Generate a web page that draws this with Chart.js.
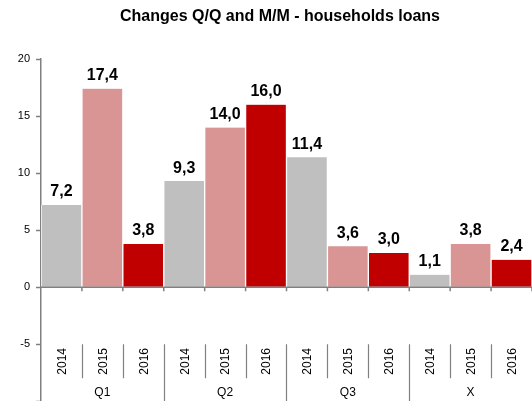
<!DOCTYPE html>
<html>
<head>
<meta charset="utf-8">
<script src="https://cdn.jsdelivr.net/npm/chart.js@4.4.1/dist/chart.umd.min.js"></script>
<style>
  html, body { margin: 0; padding: 0; background: #fff; overflow: hidden; }
  canvas { display: block; }
</style>
</head>
<body>
<canvas id="loans" width="532" height="414"></canvas>
<script>
// data
const title = 'Changes Q/Q and M/M - households loans';
const groups = ['Q1', 'Q2', 'Q3', 'X'];
const years = ['2014', '2015', '2016'];
const values = [7.2, 17.4, 3.8, 9.3, 14.0, 16.0, 11.4, 3.6, 3.0, 1.1, 3.8, 2.4];
const yearColors = ['#BFBFBF', '#D99594', '#C00000'];

const labels = [];
groups.forEach(g => years.forEach(yr => labels.push(yr + ' ' + g)));
const barColors = values.map((v, i) => yearColors[i % 3]);

const axisGrey = '#808080';
const fontFam = '"Liberation Sans", Arial, sans-serif';

// title, value labels, zero line and the two-level category axis drawn low in the plot
const lowerAxis = {
    id: 'lowerAxis',
    afterDatasetsDraw(chart) {
        const { ctx, chartArea } = chart;
        const x = chart.scales.x, y = chart.scales.y;
        const y0 = y.getPixelForValue(0);
        const yTop = y.getPixelForValue(-5);
        const slot = x.getPixelForValue(1) - x.getPixelForValue(0);
        ctx.save();

        ctx.fillStyle = '#000';
        ctx.textAlign = 'center';
        ctx.textBaseline = 'middle';
        ctx.font = 'bold 16px ' + fontFam;
        ctx.fillText(title, 280, 17);

        // bar value labels
        chart.getDatasetMeta(0).data.forEach((bar, i) => {
            ctx.fillText(values[i].toFixed(1).replace('.', ','), bar.x, bar.y - 13);
        });

        // zero line with small ticks
        ctx.strokeStyle = axisGrey;
        ctx.lineWidth = 1.5;
        ctx.beginPath();
        ctx.moveTo(chartArea.left, y0);
        ctx.lineTo(chartArea.right, y0);
        labels.forEach((l, i) => {
            const bx = x.getPixelForValue(i) + slot / 2;
            ctx.moveTo(bx, y0);
            ctx.lineTo(bx, y0 + 4);
        });
        ctx.stroke();

        // separators
        ctx.lineWidth = 1.2;
        ctx.beginPath();
        labels.forEach((l, i) => {
            if (i === labels.length - 1) return;
            const bx = Math.round(x.getPixelForValue(i) + slot / 2) + 0.5;
            const end = (i + 1) % 3 === 0 ? chartArea.bottom : yTop + 34;
            ctx.moveTo(bx, yTop);
            ctx.lineTo(bx, end);
        });
        ctx.stroke();

        // year labels, rotated
        ctx.font = '12px ' + fontFam;
        labels.forEach((l, i) => {
            ctx.save();
            ctx.translate(x.getPixelForValue(i) + 1, yTop + 17);
            ctx.rotate(-Math.PI / 2);
            ctx.fillText(years[i % 3], 0, 0);
            ctx.restore();
        });

        // group labels
        groups.forEach((g, gi) => {
            const cx = x.getPixelForValue(gi * 3 + 1);
            ctx.fillText(g, cx, yTop + 48);
        });
        ctx.restore();
    }
};

new Chart(document.getElementById('loans'), {
    type: 'bar',
    data: {
        labels: labels,
        datasets: [{
            data: values,
            backgroundColor: barColors,
            borderColor: '#ffffff',
            borderWidth: { left: 1, right: 1, top: 0, bottom: 0 },
            borderSkipped: false,
            barPercentage: 1,
            categoryPercentage: 1
        }]
    },
    options: {
        responsive: false,
        animation: false,
        layout: { padding: { left: 0, right: 0, top: 59, bottom: 0 } },
        scales: {
            x: {
                display: false
            },
            y: {
                min: -10,
                max: 20,
                afterFit(scale) { scale.width = 41; },
                border: { display: true, color: axisGrey, width: 1.5 },
                grid: { drawOnChartArea: false, drawTicks: true, tickLength: 5, tickColor: axisGrey, tickWidth: 1.5 },
                ticks: {
                    stepSize: 5,
                    padding: 6,
                    color: '#000',
                    font: { family: fontFam, size: 11 },
                    callback: v => (v < -5 ? '' : v)
                }
            }
        },
        plugins: {
            legend: { display: false },
            tooltip: { enabled: false },
            title: { display: false }
        }
    },
    plugins: [lowerAxis]
});
</script>
</body>
</html>
